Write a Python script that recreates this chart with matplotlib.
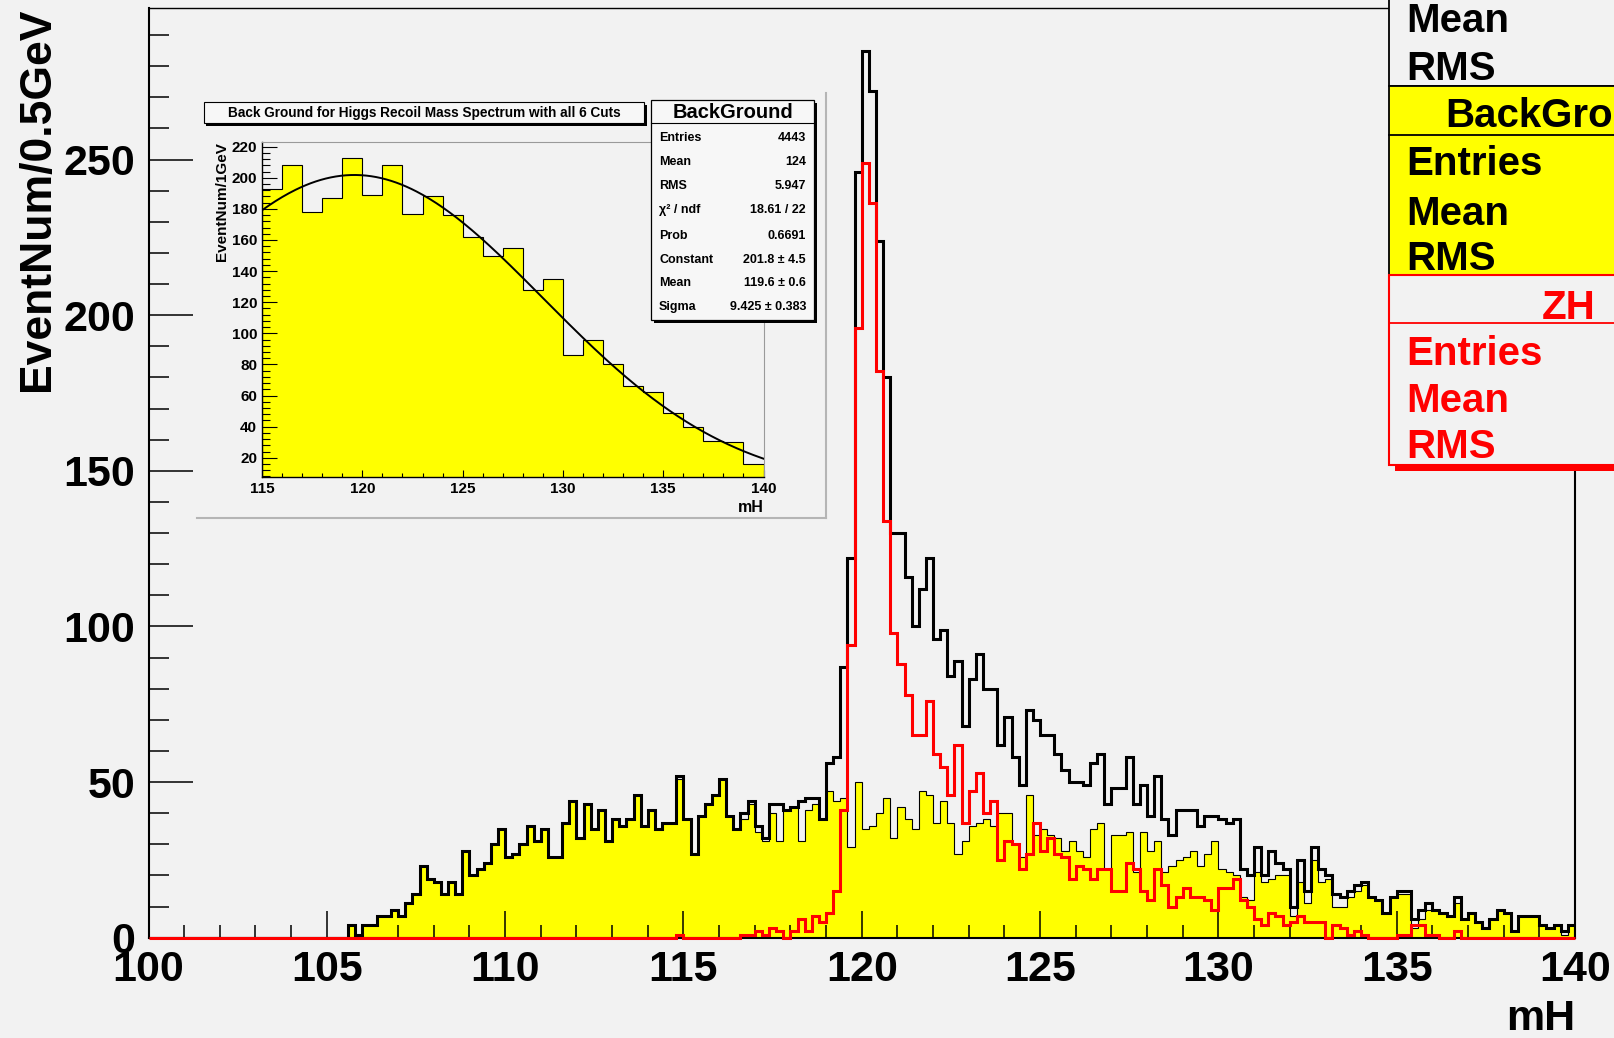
import numpy as np
import matplotlib.pyplot as plt
from matplotlib.patches import Rectangle
from matplotlib.lines import Line2D

# ==========================================
# DATA
# ==========================================
# main spectrum: 0.2 GeV bins from 100 to 140
MH_LO, MH_HI, N_BINS = 100.0, 140.0, 200

total = ([0] * 28 +
         [4, 1, 4, 4, 7, 7, 9, 7, 11, 14, 23, 19, 18, 14, 18, 14, 28, 20, 22, 24,
          30, 35, 26, 27, 30, 36, 31, 35, 26, 26, 37, 44, 32, 43, 35, 41, 31, 38, 36, 38,
          46] +
         [36, 41, 35, 37, 37, 52, 38, 27, 39, 43, 46, 51, 39, 35, 40, 44] +
         [36, 32, 43, 43, 41, 42, 44, 45, 45, 38] +
         [56, 58, 87, 122, 246, 285, 272, 224, 180, 130, 130, 116, 100, 112, 122] +
         [96, 99, 84, 89, 68, 83, 91, 80, 80, 62, 71, 58, 49, 73, 70, 65, 65, 59, 54, 50,
          50, 49, 56, 59, 43] +
         [48, 48, 58, 43, 49, 39, 52, 38, 33, 41, 41, 41, 36, 39, 39, 38, 37, 38] +
         [22, 20, 29, 20, 28, 24, 22, 10, 25, 15, 29, 22, 20, 14, 13, 15, 17, 18] +
         [13, 12, 8, 13, 15, 15, 6, 9, 11, 9, 8, 7, 13, 6, 8, 5, 3, 6, 9, 8,
          2, 7, 7, 7, 4, 3, 4, 2, 4])

background = ([0] * 28 +
              [4, 1, 4, 4, 7, 7, 9, 7, 11, 14, 23, 19, 18, 14, 18, 14, 28, 20, 22, 24,
               30, 35, 26, 27, 30, 36, 31, 35, 26, 26, 37, 44, 32, 43, 35, 41, 31, 38, 36, 38,
               46] +
              [36, 41, 35, 37, 37, 51, 38, 27, 39, 43, 46, 51, 39, 35, 38, 43] +
              [34, 31, 40, 31, 41, 42, 31, 41, 43, 38] +
              [47, 44, 45, 29, 50, 35, 36, 40, 45, 32, 42, 38, 35, 47, 46] +
              [37, 44, 37, 27, 31, 36, 37, 38, 36, 40, 40, 30, 26, 46, 33, 35, 33, 32, 28, 31,
               28, 26, 35, 37, 22] +
              [33, 33, 34, 21, 34, 28, 31, 21, 23, 25, 26, 28, 23, 27, 31, 22, 21, 20] +
              [13, 12, 21, 18, 19, 20, 20, 7, 18, 11, 25, 18, 19, 10, 10, 13, 15, 17] +
              [13, 12, 8, 13, 14, 14, 3, 6, 9, 9, 8, 7, 11, 6, 8, 5, 3, 6, 9, 8,
               2, 7, 7, 7, 4, 3, 4, 1, 4])

zh_signal = ([0] * 74 + [1] + [0] * 8 + [1, 1] +
             [2, 1, 3, 2, 0, 2, 6, 2, 7, 5] +
             [8, 15, 41, 94, 196, 249, 236, 182, 134, 98, 88, 78, 65, 65, 76] +
             [59, 55, 46, 62, 37, 47, 53, 40, 44, 25, 31, 30, 22, 27, 37, 28, 32, 27, 26, 19,
              23, 22, 19, 22, 22] +
             [15, 15, 24, 22, 15, 12, 22, 17, 10, 13, 16, 13, 13, 12, 9, 16, 16, 19] +
             [12, 10, 6, 4, 8, 7, 4, 5, 7, 5, 5, 5, 0, 4, 3, 1, 2, 1] +
             [0, 0, 0, 0, 1, 1, 4, 4, 1, 1, 0, 0, 2] + [0] * 16)

# inset: background, 1 GeV bins from 115 to 140, with gaussian fit
INSET_LO, INSET_HI = 115, 140
inset_bg = [193, 208, 178, 187, 213, 189, 208, 177, 188, 176, 162, 150, 155,
            128, 135, 86, 96, 80, 66, 62, 49, 40, 31, 30, 16]
fit_const, fit_mean, fit_sigma = 201.8, 119.6, 9.425

inset_title = "Back Ground for Higgs Recoil Mass Spectrum with all 6 Cuts"
inset_stat_names = ["Entries", "Mean", "RMS", "\u03c7\u00b2 / ndf", "Prob",
                    "Constant", "Mean", "Sigma"]
inset_stat_vals = ["4443", "124", "5.947", "18.61 / 22", "0.6691",
                   "201.8 \u00b1 4.5", "119.6 \u00b1 0.6", "9.425 \u00b1 0.383"]

# ==========================================
# STYLE
# ==========================================
W, H = 1614, 1038
BG = '#f2f2f2'
YELLOW = '#ffff00'
RED = '#ff0000'
STAT_FS = 29

plt.rcParams['font.family'] = ['Liberation Sans', 'DejaVu Sans']
plt.rcParams['font.weight'] = 'bold'


def fx(x):
    return x / W


def fy(y):
    return 1 - y / H


def fig_box(fig, x0, y0, x1, y1, fc, ec, lw=1.0, shadow=None, sh=3, z=3):
    if shadow is not None:
        fig.add_artist(Rectangle((fx(x0 + sh), fy(y1 + sh)), (x1 - x0) / W, (y1 - y0) / H,
                                 transform=fig.transFigure, fc=shadow, ec='none', zorder=z))
    fig.add_artist(Rectangle((fx(x0), fy(y1)), (x1 - x0) / W, (y1 - y0) / H,
                             transform=fig.transFigure, fc=fc, ec=ec, lw=lw, zorder=z))


def fig_line(fig, xs, ys, color, lw, z=3):
    fig.add_artist(Line2D([fx(v) for v in xs], [fy(v) for v in ys],
                          transform=fig.transFigure, color=color, lw=lw, zorder=z))


fig = plt.figure(figsize=(W / 100, H / 100), dpi=100, facecolor=BG)

# ---------------- main axes ----------------
ax = fig.add_axes([fx(148.5), fy(937.7), (1575 - 148.5) / W, (937.7 - 8) / H])
ax.set_facecolor(BG)
ax.set_zorder(0)
edges = np.linspace(MH_LO, MH_HI, N_BINS + 1)

ax.stairs(background, edges, fill=True, color=YELLOW, zorder=1)
ax.stairs(background, edges, color='black', lw=0.8, zorder=2)
ax.stairs(total, edges, color='black', lw=2.2, zorder=3)
ax.stairs(zh_signal, edges, color=RED, lw=2.2, zorder=4, clip_on=False)

ax.set_xlim(MH_LO, MH_HI)
ax.set_ylim(0, 298.7)
ax.set_xticks(np.arange(100, 141, 5))
ax.set_xticks(np.arange(100, 141, 1), minor=True)
ax.set_yticks(np.arange(0, 251, 50))
ax.set_yticks(np.arange(0, 291, 10), minor=True)
ax.tick_params(which='both', direction='in', color='black', width=1.1)
ax.tick_params(axis='y', which='major', length=31.7, pad=9.7, labelsize=31)
ax.tick_params(axis='y', which='minor', length=14.4)
ax.tick_params(axis='x', which='major', length=19.4, pad=8.6, labelsize=31)
ax.tick_params(axis='x', which='minor', length=9.4)
for side, lw in [('left', 1.5), ('bottom', 1.5), ('top', 1.0), ('right', 1.5)]:
    ax.spines[side].set_linewidth(lw)
    ax.spines[side].set_color('black')

fig.text(fx(38), fy(8), "EventNum/0.5GeV", rotation=90, ha='center', va='top',
         fontsize=32, fontweight='bold')
fig.text(fx(1575), fy(1019), "mH", ha='right', va='center', fontsize=31, fontweight='bold')

# ---------------- inset pad ----------------
fig.add_artist(Rectangle((fx(197), fy(518)), (826 - 197) / W, (518 - 93) / H,
                         transform=fig.transFigure, fc=BG, ec='none', zorder=1))
fig_line(fig, [197, 826], [518, 518], '#b5b5b5', 1.5, z=1)
fig_line(fig, [826, 826], [93, 518], '#b5b5b5', 1.5, z=1)

iax = fig.add_axes([fx(262.1), fy(476.7), (763.5 - 262.1) / W, (476.7 - 141.7) / H])
iax.set_zorder(2)
iax.set_facecolor(BG)
iedges = np.arange(INSET_LO, INSET_HI + 1)
iax.stairs(inset_bg, iedges, fill=True, color=YELLOW, zorder=1)
iax.stairs(inset_bg, iedges, color='black', lw=0.8, zorder=2)
xf = np.linspace(INSET_LO, INSET_HI, 300)
iax.plot(xf, fit_const * np.exp(-0.5 * ((xf - fit_mean) / fit_sigma) ** 2),
         color='black', lw=1.4, zorder=3)
iax.set_xlim(INSET_LO, INSET_HI)
iax.set_ylim(7.8, 223.2)
iax.set_xticks(np.arange(115, 141, 5))
iax.set_xticks(np.arange(115, 141, 1), minor=True)
iax.set_yticks(np.arange(20, 221, 20))
iax.set_yticks(np.arange(8, 224, 4), minor=True)
iax.tick_params(which='both', direction='in', color='black', width=0.8, labelsize=11)
iax.tick_params(axis='y', which='major', length=11, pad=3.5)
iax.tick_params(axis='y', which='minor', length=5.5)
iax.tick_params(axis='x', which='major', length=5, pad=4)
iax.tick_params(axis='x', which='minor', length=3)
for side in ['left', 'bottom']:
    iax.spines[side].set_linewidth(1.0)
for side in ['top', 'right']:
    iax.spines[side].set_linewidth(0.8)
    iax.spines[side].set_color('#9a9a9a')

fig.text(fx(222), fy(142), "EventNum/1GeV", rotation=90, ha='center', va='top',
         fontsize=11, fontweight='bold', zorder=3)
fig.text(fx(763.5), fy(507), "mH", ha='right', va='center', fontsize=11.5,
         fontweight='bold', zorder=3)

# inset title
fig_box(fig, 204, 102, 644, 123, '#f7f7f7', 'black', lw=0.8, shadow='black', sh=2.5)
fig.text(fx(424), fy(112.5), inset_title, ha='center', va='center', fontsize=9.8,
         fontweight='bold', zorder=4)

# inset stats box
fig_box(fig, 651, 100, 814, 320, '#f7f7f7', 'black', lw=0.9, shadow='black', sh=3)
fig_line(fig, [651, 814], [123, 123], 'black', 0.8, z=4)
fig.text(fx(732.5), fy(113), "BackGround", ha='center', va='center', fontsize=14.5,
         fontweight='bold', zorder=4)
stat_rows_y = [137.7, 161.7, 186, 210, 235.7, 260, 283.3, 307.3]
for name, val, yy in zip(inset_stat_names, inset_stat_vals, stat_rows_y):
    fig.text(fx(659), fy(yy), name, ha='left', va='center', fontsize=9,
             fontweight='bold', zorder=4)
    fig.text(fx(806), fy(yy), val, ha='right', va='center', fontsize=9,
             fontweight='bold', zorder=4)

# ---------------- main stats boxes (cut off at the right edge) ----------------
fig_box(fig, 1389, -40, 1760, 86, BG, 'black', lw=1.3)
for name, yy in [("Mean", 21), ("RMS", 69)]:
    fig.text(fx(1406), fy(yy), name, ha='left', va='center', fontsize=STAT_FS,
             fontweight='bold', color='black', zorder=4)

fig_box(fig, 1389, 86, 1760, 275, YELLOW, 'black', lw=1.3)
fig_line(fig, [1389, 1760], [135, 135], 'black', 1.3, z=4)
fig.text(fx(1445), fy(116), "BackGround", ha='left', va='center', fontsize=STAT_FS,
         fontweight='bold', color='black', zorder=4)
for name, yy in [("Entries", 164), ("Mean", 214), ("RMS", 259)]:
    fig.text(fx(1406), fy(yy), name, ha='left', va='center', fontsize=STAT_FS,
             fontweight='bold', color='black', zorder=4)

fig_box(fig, 1389, 275, 1760, 465, BG, RED, lw=1.5, shadow=RED, sh=6)
fig_line(fig, [1389, 1760], [323, 323], RED, 1.3, z=4)
fig.text(fx(1542), fy(308), "ZH", ha='left', va='center', fontsize=STAT_FS,
         fontweight='bold', color=RED, zorder=4)
for name, yy in [("Entries", 354), ("Mean", 401), ("RMS", 447)]:
    fig.text(fx(1406), fy(yy), name, ha='left', va='center', fontsize=STAT_FS,
             fontweight='bold', color=RED, zorder=4)

fig.savefig("out.png", dpi=100, facecolor=BG)
